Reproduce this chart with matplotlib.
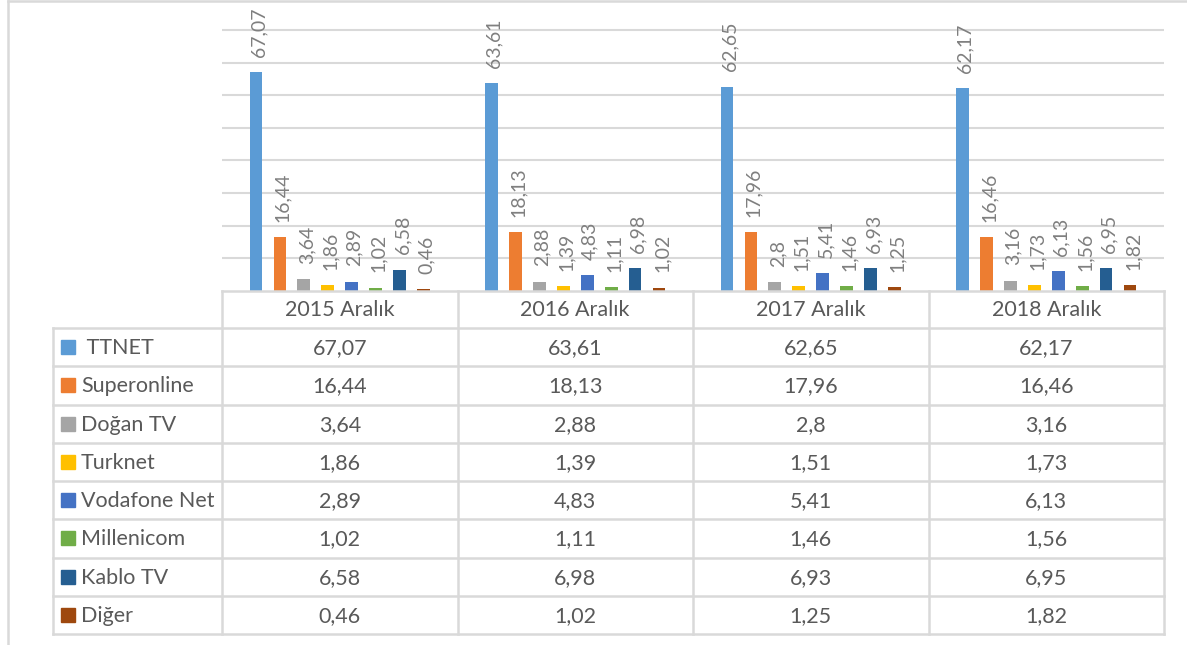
import numpy as np
import matplotlib.pyplot as plt

plt.rcParams['font.family'] = ['Lato', 'DejaVu Sans']

# veriler
donemler = ['2015 Aralık', '2016 Aralık', '2017 Aralık', '2018 Aralık']
operatorler = [' TTNET', 'Superonline', 'Doğan TV', 'Turknet',
               'Vodafone Net', 'Millenicom', 'Kablo TV', 'Diğer']
ttnet = [67.07, 63.61, 62.65, 62.17]
superonline = [16.44, 18.13, 17.96, 16.46]
dogan_tv = [3.64, 2.88, 2.8, 3.16]
turknet = [1.86, 1.39, 1.51, 1.73]
vodafone = [2.89, 4.83, 5.41, 6.13]
millenicom = [1.02, 1.11, 1.46, 1.56]
kablo_tv = [6.58, 6.98, 6.93, 6.95]
diger = [0.46, 1.02, 1.25, 1.82]

seriler = [ttnet, superonline, dogan_tv, turknet, vodafone, millenicom, kablo_tv, diger]
renkler = ['#5B9BD5', '#ED7D31', '#A5A5A5', '#FFC000',
           '#4472C4', '#70AD47', '#255E91', '#9E480E']

W, H = 1187, 645
fig = plt.figure(figsize=(W / 100, H / 100), dpi=100)

def fx(px):
    return px / W

def fy(py):
    return 1 - py / H

# grafik alani (piksel olarak)
sol, sag, alt, ust = 222, 1164, 291, 0
ax = fig.add_axes([fx(sol), fy(alt), fx(sag - sol), fy(ust) - fy(alt)])
birim = (291 - 30) / 80.0
ax.set_ylim(0, (alt - ust) / birim)
ax.set_xlim(-0.5, len(donemler) - 0.5)

x = np.arange(len(donemler))
adim = 0.1017
genislik = 0.054
for j, (vals, renk) in enumerate(zip(seriler, renkler)):
    xs = x + (j - 3.5) * adim
    ax.bar(xs, vals, width=genislik, color=renk, zorder=3)
    for xi, v in zip(xs, vals):
        ax.annotate(f'{v:g}'.replace('.', ','), (xi, v), xytext=(2, 11),
                    textcoords='offset points', rotation=90, ha='center',
                    va='bottom', fontsize=14, color='#7F7F7F',
                    annotation_clip=False)

ax.set_yticks(np.arange(10, 81, 10))
ax.yaxis.grid(True, color='#D9D9D9', linewidth=1.5, zorder=0)
ax.set_yticklabels([])
ax.set_xticks([])
ax.tick_params(left=False, bottom=False)
for s in ax.spines.values():
    s.set_visible(False)

# veri tablosu (piksel koordinatlari)
ov = fig.add_axes([0, 0, 1, 1])
ov.set_xlim(0, W)
ov.set_ylim(H, 0)
ov.axis('off')

cizgi = dict(color='#D9D9D9', linewidth=1.8)
# dis cerceve
ov.plot([8, 8], [1, H], **cizgi)
ov.plot([8, W], [1, 1], **cizgi)

sutun = np.linspace(sol, sag, len(donemler) + 1)
baslik_ust, baslik_alt = 291, 328
satir = baslik_alt + np.arange(len(operatorler) + 1) * 38.25
tablo_sol = 53

ov.plot([sol, sag], [baslik_ust, baslik_ust], **cizgi)
for xc in sutun:
    ov.plot([xc, xc], [baslik_ust, satir[-1]], **cizgi)
ov.plot([tablo_sol, tablo_sol], [satir[0], satir[-1]], **cizgi)
for yr in satir:
    ov.plot([tablo_sol, sag], [yr, yr], **cizgi)

yazi = '#595959'
for i, d in enumerate(donemler):
    ov.text((sutun[i] + sutun[i + 1]) / 2, (baslik_ust + baslik_alt) / 2 + 1, d,
            ha='center', va='center', fontsize=15.5, color=yazi)

for k, (ad, vals, renk) in enumerate(zip(operatorler, seriler, renkler)):
    yc = (satir[k] + satir[k + 1]) / 2
    ov.add_patch(plt.Rectangle((61, yc - 7), 14, 14, color=renk))
    ov.text(81, yc + 1, ad, ha='left', va='center', fontsize=15.5, color=yazi)
    for i, v in enumerate(vals):
        ov.text((sutun[i] + sutun[i + 1]) / 2, yc + 1, f'{v:g}'.replace('.', ','),
                ha='center', va='center', fontsize=15.5, color=yazi)

fig.savefig('out.png', dpi=100)
